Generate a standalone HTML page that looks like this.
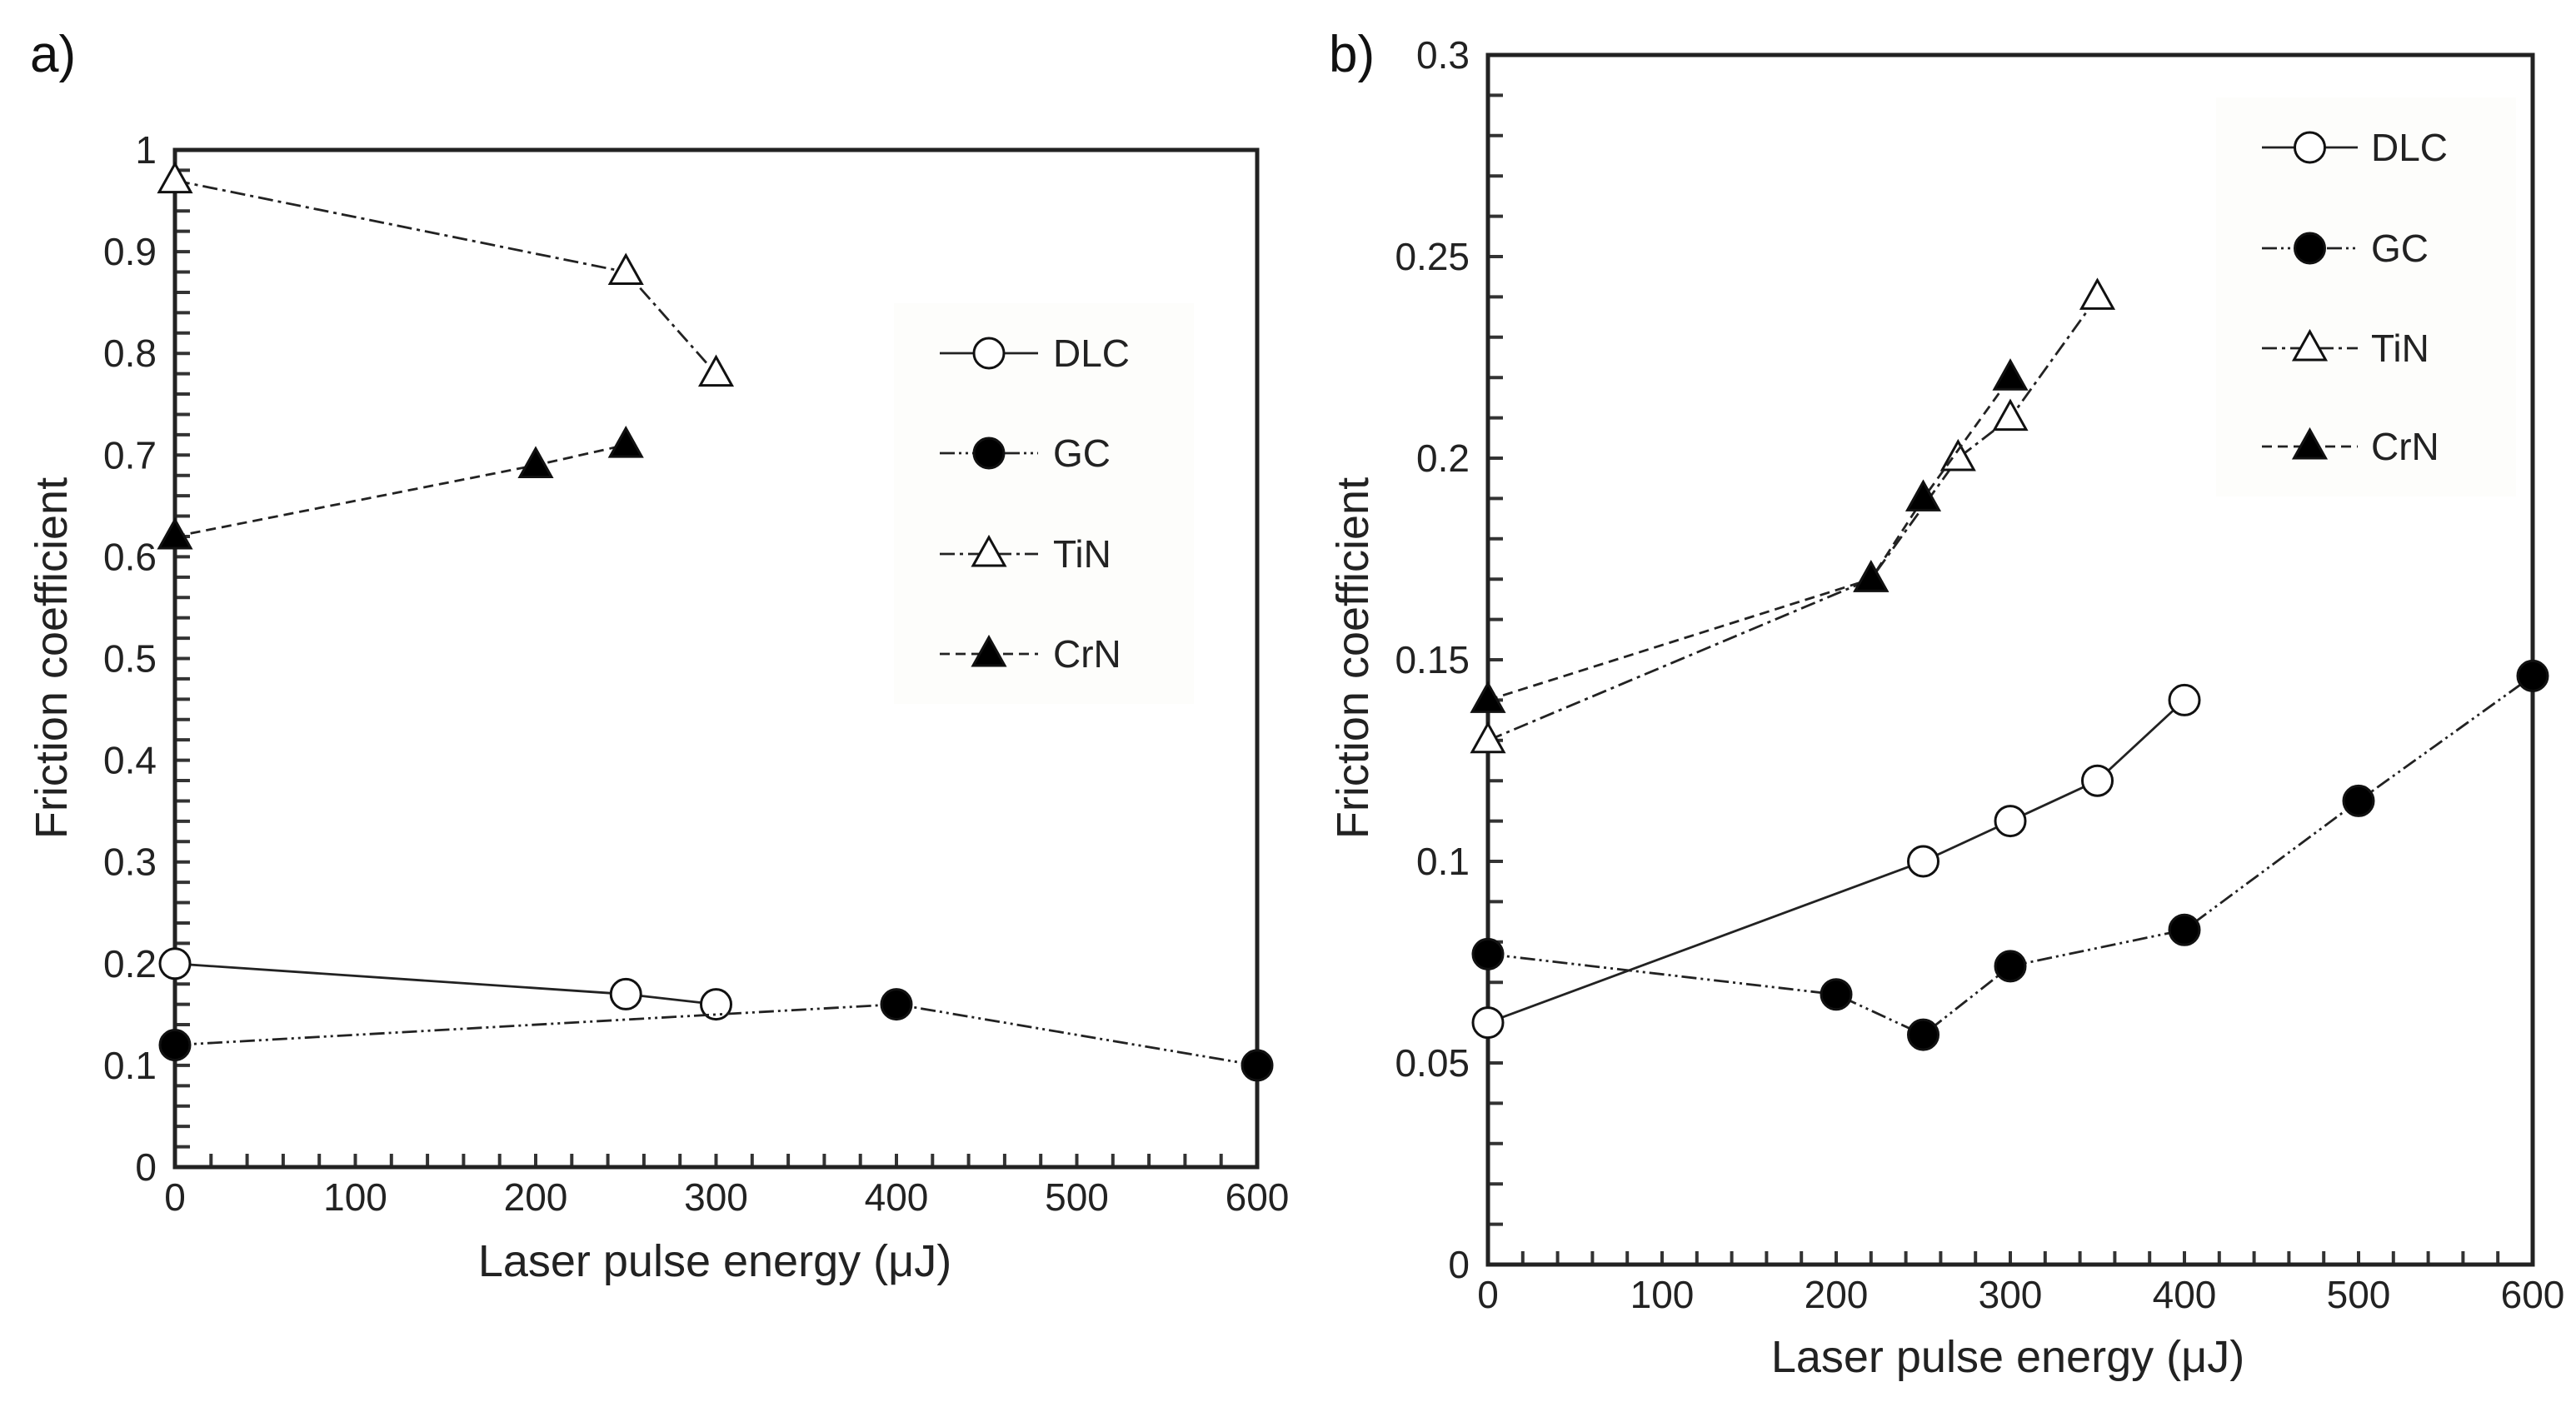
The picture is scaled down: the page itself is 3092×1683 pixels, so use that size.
<!DOCTYPE html>
<html><head><meta charset="utf-8"><style>
html,body{margin:0;padding:0;background:#fff;}
svg{display:block;font-family:"Liberation Sans",Arial,sans-serif;}
</style></head>
<body>
<svg id="chart" width="3092" height="1683" viewBox="0 0 3092 1683" xmlns="http://www.w3.org/2000/svg"></svg>
<script>
// Panel a data
const aDLCx=[0,250,300], aDLCy=[0.2,0.17,0.16];
const aGCx=[0,400,600], aGCy=[0.12,0.16,0.10];
const aTiNx=[0,250,300], aTiNy=[0.97,0.88,0.78];
const aCrNx=[0,200,250], aCrNy=[0.62,0.69,0.71];
const aYTicks=[0,0.1,0.2,0.3,0.4,0.5,0.6,0.7,0.8,0.9,1];
const aYLabels=["0","0.1","0.2","0.3","0.4","0.5","0.6","0.7","0.8","0.9","1"];
// Panel b data
const bDLCx=[0,250,300,350,400], bDLCy=[0.06,0.10,0.11,0.12,0.14];
const bGCx=[0,200,250,300,400,500,600], bGCy=[0.077,0.067,0.057,0.074,0.083,0.115,0.146];
const bTiNx=[0,220,270,300,350], bTiNy=[0.13,0.17,0.20,0.21,0.24];
const bCrNx=[0,220,250,300], bCrNy=[0.14,0.17,0.19,0.22];
const bYTicks=[0,0.05,0.1,0.15,0.2,0.25,0.3];
const bYLabels=["0","0.05","0.1","0.15","0.2","0.25","0.3"];
const xTicks=[0,100,200,300,400,500,600];
const xLabels=["0","100","200","300","400","500","600"];
const seriesNames=["DLC","GC","TiN","CrN"];

const NS="http://www.w3.org/2000/svg";
const svg=document.getElementById('chart');
function mk(tag,attrs,parent){const e=document.createElementNS(NS,tag);for(const k in attrs)e.setAttribute(k,attrs[k]);(parent||svg).appendChild(e);return e;}

const styles={
 DLC:{dash:"none",marker:"circle",fill:"#fff"},
 GC:{dash:"18 5 3 5 3 5",marker:"circle",fill:"#000"},
 TiN:{dash:"18 6 4 6",marker:"tri",fill:"#fff"},
 CrN:{dash:"12 7",marker:"tri",fill:"#000"}
};

function marker(g,type,fill,x,y){
  let m;
  if(type==="circle"){m=mk('circle',{cx:x,cy:y,r:18,fill:fill,stroke:'#111','stroke-width':3},g);}
  else{m=mk('polygon',{points:`${x},${y-20} ${x-19},${y+14} ${x+19},${y+14}`,fill:fill,stroke:'#111','stroke-width':3,'stroke-linejoin':'miter'},g);}
  
  
}

function panel(cfg){
  const {L,R,T,B,ymax,yMinor,yTicks,yLabels,data,legend,label,id,labelPos,xTitlePos,yTitlePos}=cfg;
  const g=mk('g',{});
  
  
  const sx=v=>L+(R-L)*v/600, sy=v=>B-(B-T)*v/ymax;
  for(let v=0;v<=600.001;v+=20){const x=sx(v);const t=mk('line',{x1:x,y1:B,x2:x,y2:B-16,stroke:'#333','stroke-width':4},g);}
  for(let i=0;i*yMinor<=ymax+1e-9;i++){const y=sy(i*yMinor);const t=mk('line',{x1:L,y1:y,x2:L+18,y2:y,stroke:'#333','stroke-width':4},g);}
  const fr=mk('rect',{x:L,y:T,width:R-L,height:B-T,fill:'none',stroke:'#222','stroke-width':5},g);
  
  xTicks.forEach((v,i)=>{const t=mk('text',{x:sx(v),y:B+52,'font-size':46,'text-anchor':'middle',fill:'#222'},g);t.textContent=xLabels[i];});
  yTicks.forEach((v,i)=>{const t=mk('text',{x:L-22,y:sy(v)+16,'font-size':46,'text-anchor':'end',fill:'#222'},g);t.textContent=yLabels[i];});
  const xt=mk('text',{x:xTitlePos[0],y:xTitlePos[1],'font-size':54,'text-anchor':'middle',fill:'#222'},g);xt.textContent='Laser pulse energy (μJ)';
  const yt=mk('text',{x:0,y:0,'font-size':54,'text-anchor':'middle',fill:'#222',transform:`translate(${yTitlePos[0]},${yTitlePos[1]}) rotate(-90)`},g);yt.textContent='Friction coefficient';
  const pl=mk('text',{x:labelPos[0],y:labelPos[1],'font-size':62,fill:'#111'},g);pl.textContent=label;
  seriesNames.forEach((nm,si)=>{
    const st=styles[nm];const [xs,ys]=data[si];
    const sg=mk('g',{},g);
    const pts=xs.map((x,i)=>sx(x)+','+sy(ys[i])).join(' ');
    const pl2=mk('polyline',{points:pts,fill:'none',stroke:'#222','stroke-width':2.8,'stroke-dasharray':st.dash},sg);
    
    xs.forEach((x,i)=>marker(sg,st.marker,st.fill,sx(x),sy(ys[i])));
  });
  const lg=mk('g',{},g);
  const bg=mk('rect',{x:legend.x0-55,y:legend.rows[0]-60,width:360,height:legend.rows[3]-legend.rows[0]+120,fill:'#fdfdfb'},lg);
  
  seriesNames.forEach((nm,si)=>{
    const st=styles[nm];const y=legend.rows[si];
    const e=mk('g',{},lg);
    mk('line',{x1:legend.x0,y1:y,x2:legend.x1,y2:y,stroke:'#222','stroke-width':2.8,'stroke-dasharray':st.dash},e);
    marker(e,st.marker,st.fill,(legend.x0+legend.x1)/2,y);
    const t=mk('text',{x:legend.tx,y:y+16,'font-size':46,fill:'#222'},e);t.textContent=nm;
  });
}

panel({id:'panel-a',L:210,R:1509,T:180,B:1401,ymax:1,yMinor:0.02,yTicks:aYTicks,yLabels:aYLabels,
  data:[[aDLCx,aDLCy],[aGCx,aGCy],[aTiNx,aTiNy],[aCrNx,aCrNy]],
  legend:{x0:1128,x1:1246,tx:1264,rows:[424,544,665,785]},label:'a)',labelPos:[36,86],xTitlePos:[858,1532],yTitlePos:[80,790]});
panel({id:'panel-b',L:1786,R:3040,T:66,B:1518,ymax:0.3,yMinor:0.01,yTicks:bYTicks,yLabels:bYLabels,
  data:[[bDLCx,bDLCy],[bGCx,bGCy],[bTiNx,bTiNy],[bCrNx,bCrNy]],
  legend:{x0:2715,x1:2830,tx:2846,rows:[177,298,418,536]},label:'b)',labelPos:[1595,86],xTitlePos:[2410,1647],yTitlePos:[1642,790]});
</script>
</body></html>
